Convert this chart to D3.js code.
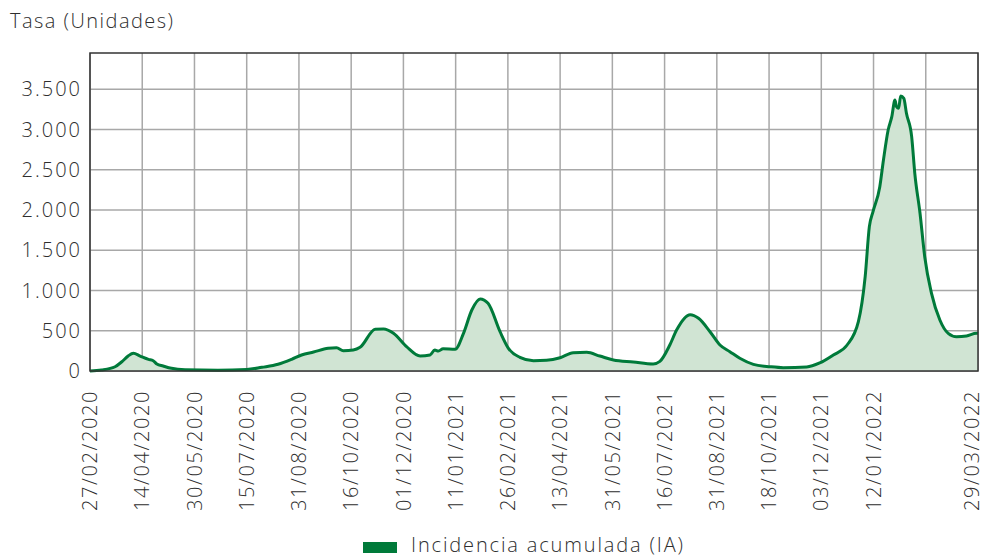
<!DOCTYPE html>
<html>
<head>
<meta charset="utf-8">
<script src="https://cdn.jsdelivr.net/npm/d3@7"></script>
<style>
body { margin: 0; background: #fff; }
text { font-family: "Open Sans", "Noto Sans", sans-serif; font-weight: 300; fill: #2e2e2e; }
</style>
</head>
<body>
<div id="chart"></div>
<script>
// tick labels, one per vertical grid line (index 16 has no label)
const tickLabels = ["27/02/2020", "14/04/2020", "30/05/2020", "15/07/2020", "31/08/2020",
    "16/10/2020", "01/12/2020", "11/01/2021", "26/02/2021", "13/04/2021", "31/05/2021",
    "16/07/2021", "31/08/2021", "18/10/2021", "03/12/2021", "12/01/2022", "", "29/03/2022"];

const yTicks = [0, 500, 1000, 1500, 2000, 2500, 3000, 3500];

// position of each reading, in grid-line units (0 = first label, 17 = last)
const pos = [0, 0.22, 0.48, 0.61, 0.73, 0.83, 0.96, 1.12, 1.21, 1.28, 1.4, 1.56, 1.82, 2.45,
    3, 3.29, 3.6, 3.86, 4.05, 4.28, 4.56, 4.72, 4.85, 5.04, 5.17, 5.46, 5.62, 5.81,
    6.06, 6.32, 6.51, 6.6, 6.67, 6.76, 6.99, 7.15, 7.31, 7.47, 7.62, 7.85, 8.01,
    8.23, 8.49, 8.74, 9, 9.25, 9.51, 9.76, 10.02, 10.4, 10.78, 10.91, 11.1, 11.23,
    11.49, 11.65, 11.87, 12.06, 12.25, 12.44, 12.7, 13.02, 13.27, 13.72, 13.97,
    14.23, 14.49, 14.71, 14.84, 14.92, 14.99, 15.12, 15.19, 15.28, 15.35, 15.41,
    15.44, 15.48, 15.52, 15.58, 15.63, 15.73, 15.79, 15.89, 15.98, 16.11, 16.27,
    16.43, 16.59, 16.78, 16.97, 17];

// Incidencia acumulada (IA)
const ia = [0, 12, 53, 115, 186, 220, 186, 145, 128, 87, 62, 33, 16, 10,
    18, 46, 83, 145, 199, 236, 282, 290, 252, 261, 294, 518, 522, 468,
    302, 186, 199, 261, 248, 277, 270, 468, 758, 894, 841, 488, 282,
    170, 128, 133, 165, 227, 232, 186, 137, 112, 87, 120, 323, 509,
    700, 655, 488, 323, 240, 158, 83, 53, 41, 50, 100,
    199, 320, 613, 1172, 1793, 1979, 2290, 2621, 2994, 3159, 3366,
    3283, 3263, 3416, 3387, 3201, 2911, 2456, 1959, 1420, 965, 634,
    468, 426, 435, 468, 465];

const data = pos.map((p, i) => ({ p, v: ia[i] }));

const svg = d3.select("#chart")
    .append("svg")
    .attr("width", 987)
    .attr("height", 557);

const margin = {top: 53, right: 9, bottom: 186, left: 90};
const width = +svg.attr("width") - margin.left - margin.right;
const height = +svg.attr("height") - margin.top - margin.bottom;

const x = d3.scaleLinear().domain([0, tickLabels.length - 1]).range([0, width]);
const y = d3.scaleLinear().domain([0, 3950]).range([height, 0]);

const es = d3.formatLocale({decimal: ",", thousands: ".", grouping: [3], currency: ["", "€"]});
const fmt = es.format(",d");

const g = svg.append("g")
    .attr("transform", `translate(${margin.left},${margin.top})`);

// grid
g.selectAll(".vgrid")
    .data(d3.range(tickLabels.length))
    .enter().append("line")
    .attr("x1", d => x(d)).attr("x2", d => x(d))
    .attr("y1", 0).attr("y2", height)
    .attr("stroke", "#a8a8a8")
    .attr("stroke-width", 1.5);

g.selectAll(".hgrid")
    .data(yTicks)
    .enter().append("line")
    .attr("x1", 0).attr("x2", width)
    .attr("y1", d => y(d)).attr("y2", d => y(d))
    .attr("stroke", "#a8a8a8")
    .attr("stroke-width", 1.5);

// area + line
g.append("path")
    .datum(data)
    .attr("fill", "#d0e4d3")
    .attr("d", d3.area().x(d => x(d.p)).y0(height).y1(d => y(d.v)).curve(d3.curveMonotoneX));

g.append("path")
    .datum(data)
    .attr("fill", "none")
    .attr("stroke", "#007a3a")
    .attr("stroke-width", 3)
    .attr("stroke-linejoin", "round")
    .attr("d", d3.line().x(d => x(d.p)).y(d => y(d.v)).curve(d3.curveMonotoneX));

// frame
g.append("rect")
    .attr("width", width).attr("height", height)
    .attr("fill", "none")
    .attr("stroke", "#333")
    .attr("stroke-width", 1.5);

// y labels
g.selectAll(".ylab")
    .data(yTicks)
    .enter().append("text")
    .attr("x", -8)
    .attr("y", d => y(d))
    .attr("dy", "0.36em")
    .attr("text-anchor", "end")
    .style("font-size", "20px")
    .style("letter-spacing", "2px")
    .text(d => fmt(d));

// x labels
g.selectAll(".xlab")
    .data(tickLabels.map((t, i) => ({t, i})).filter(d => d.t))
    .enter().append("text")
    .attr("transform", d => `translate(${Math.min(x(d.i), width - 6)},${height + 19}) rotate(-90)`)
    .attr("dy", "0.36em")
    .attr("text-anchor", "end")
    .style("font-size", "20px")
    .style("letter-spacing", "1.6px")
    .text(d => d.t);

// title
svg.append("text")
    .attr("x", 10).attr("y", 28)
    .attr("textLength", 163)
    .attr("lengthAdjust", "spacing")
    .style("font-size", "20px")
    .text("Tasa (Unidades)");

// legend
svg.append("rect")
    .attr("x", 363).attr("y", 542)
    .attr("width", 34).attr("height", 11)
    .attr("fill", "#007a3a");

svg.append("text")
    .attr("x", 411).attr("y", 552)
    .attr("textLength", 272)
    .attr("lengthAdjust", "spacing")
    .style("font-size", "20px")
    .text("Incidencia acumulada (IA)");
</script>
</body>
</html>
